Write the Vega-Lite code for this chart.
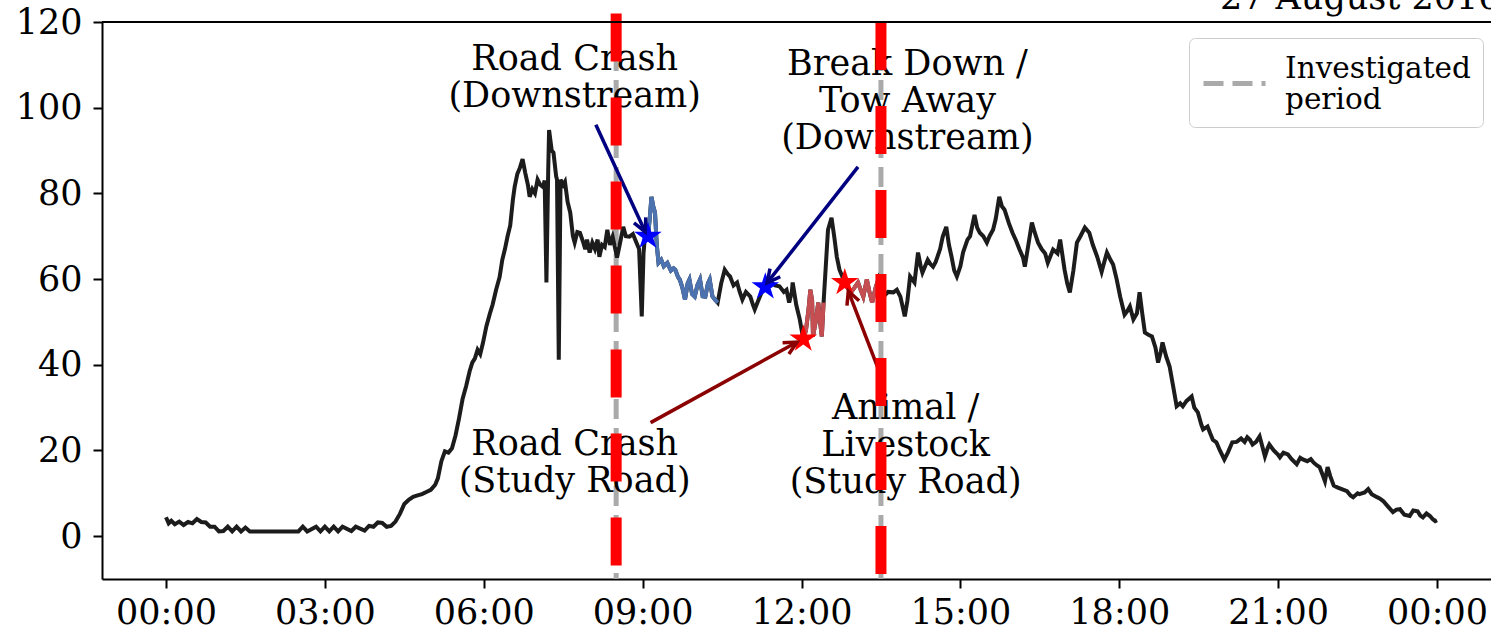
{
  "$schema": "https://vega.github.io/schema/vega-lite/v6.json",
  "width": 1389,
  "height": 557,
  "autosize": {"type": "none"},
  "padding": {"left": 102, "top": 22, "right": 0, "bottom": 49},
  "background": "white",
  "config": {
    "font": "DejaVu Serif",
    "view": {"stroke": null},
    "axis": {
      "grid": false,
      "domainColor": "black",
      "domainWidth": 2,
      "tickColor": "black",
      "tickWidth": 2,
      "tickSize": 9,
      "labelColor": "black",
      "labelFont": "DejaVu Serif",
      "labelFontSize": 35,
      "title": null
    }
  },
  "datasets": {
    "speed": [
      {"time": "2016-08-27T00:00:00Z", "speed": 4.4},
      {"time": "2016-08-27T00:03:00Z", "speed": 3.0},
      {"time": "2016-08-27T00:06:00Z", "speed": 3.6},
      {"time": "2016-08-27T00:10:00Z", "speed": 2.8},
      {"time": "2016-08-27T00:15:00Z", "speed": 3.4},
      {"time": "2016-08-27T00:20:00Z", "speed": 2.6},
      {"time": "2016-08-27T00:25:00Z", "speed": 3.3},
      {"time": "2016-08-27T00:30:00Z", "speed": 3.0},
      {"time": "2016-08-27T00:35:00Z", "speed": 4.0},
      {"time": "2016-08-27T00:40:00Z", "speed": 3.3},
      {"time": "2016-08-27T00:45:00Z", "speed": 3.2},
      {"time": "2016-08-27T00:50:00Z", "speed": 2.2},
      {"time": "2016-08-27T00:55:00Z", "speed": 2.2},
      {"time": "2016-08-27T01:00:00Z", "speed": 1.1},
      {"time": "2016-08-27T01:05:00Z", "speed": 1.2},
      {"time": "2016-08-27T01:10:00Z", "speed": 2.2},
      {"time": "2016-08-27T01:15:00Z", "speed": 1.1},
      {"time": "2016-08-27T01:20:00Z", "speed": 2.2},
      {"time": "2016-08-27T01:25:00Z", "speed": 1.1},
      {"time": "2016-08-27T01:30:00Z", "speed": 2.0},
      {"time": "2016-08-27T01:35:00Z", "speed": 1.1},
      {"time": "2016-08-27T01:45:00Z", "speed": 1.1},
      {"time": "2016-08-27T02:00:00Z", "speed": 1.1},
      {"time": "2016-08-27T02:15:00Z", "speed": 1.1},
      {"time": "2016-08-27T02:30:00Z", "speed": 1.1},
      {"time": "2016-08-27T02:35:00Z", "speed": 2.2},
      {"time": "2016-08-27T02:40:00Z", "speed": 1.1},
      {"time": "2016-08-27T02:50:00Z", "speed": 2.2},
      {"time": "2016-08-27T02:55:00Z", "speed": 1.1},
      {"time": "2016-08-27T03:00:00Z", "speed": 2.2},
      {"time": "2016-08-27T03:05:00Z", "speed": 1.1},
      {"time": "2016-08-27T03:10:00Z", "speed": 2.2},
      {"time": "2016-08-27T03:15:00Z", "speed": 1.1},
      {"time": "2016-08-27T03:20:00Z", "speed": 2.2},
      {"time": "2016-08-27T03:30:00Z", "speed": 1.2},
      {"time": "2016-08-27T03:35:00Z", "speed": 2.2},
      {"time": "2016-08-27T03:45:00Z", "speed": 1.3},
      {"time": "2016-08-27T03:50:00Z", "speed": 2.4},
      {"time": "2016-08-27T03:55:00Z", "speed": 2.2},
      {"time": "2016-08-27T04:00:00Z", "speed": 3.2},
      {"time": "2016-08-27T04:05:00Z", "speed": 3.1},
      {"time": "2016-08-27T04:10:00Z", "speed": 2.2},
      {"time": "2016-08-27T04:15:00Z", "speed": 2.4},
      {"time": "2016-08-27T04:20:00Z", "speed": 3.4},
      {"time": "2016-08-27T04:25:00Z", "speed": 5.2},
      {"time": "2016-08-27T04:30:00Z", "speed": 7.5},
      {"time": "2016-08-27T04:35:00Z", "speed": 8.5},
      {"time": "2016-08-27T04:40:00Z", "speed": 9.2},
      {"time": "2016-08-27T04:45:00Z", "speed": 9.5},
      {"time": "2016-08-27T04:50:00Z", "speed": 9.8},
      {"time": "2016-08-27T04:55:00Z", "speed": 10.3},
      {"time": "2016-08-27T05:00:00Z", "speed": 10.8},
      {"time": "2016-08-27T05:05:00Z", "speed": 12.0},
      {"time": "2016-08-27T05:08:00Z", "speed": 13.5},
      {"time": "2016-08-27T05:12:00Z", "speed": 17.5},
      {"time": "2016-08-27T05:16:00Z", "speed": 19.8},
      {"time": "2016-08-27T05:20:00Z", "speed": 19.5},
      {"time": "2016-08-27T05:24:00Z", "speed": 20.5},
      {"time": "2016-08-27T05:28:00Z", "speed": 23.5},
      {"time": "2016-08-27T05:32:00Z", "speed": 27.5},
      {"time": "2016-08-27T05:36:00Z", "speed": 32.0},
      {"time": "2016-08-27T05:40:00Z", "speed": 35.0},
      {"time": "2016-08-27T05:44:00Z", "speed": 38.5},
      {"time": "2016-08-27T05:47:00Z", "speed": 40.5},
      {"time": "2016-08-27T05:50:00Z", "speed": 41.5},
      {"time": "2016-08-27T05:53:00Z", "speed": 43.5},
      {"time": "2016-08-27T05:56:00Z", "speed": 42.5},
      {"time": "2016-08-27T05:59:00Z", "speed": 45.0},
      {"time": "2016-08-27T06:03:00Z", "speed": 49.0},
      {"time": "2016-08-27T06:07:00Z", "speed": 52.0},
      {"time": "2016-08-27T06:10:00Z", "speed": 54.0},
      {"time": "2016-08-27T06:14:00Z", "speed": 57.5},
      {"time": "2016-08-27T06:18:00Z", "speed": 60.5},
      {"time": "2016-08-27T06:21:00Z", "speed": 64.5},
      {"time": "2016-08-27T06:24:00Z", "speed": 67.0},
      {"time": "2016-08-27T06:27:00Z", "speed": 70.0},
      {"time": "2016-08-27T06:30:00Z", "speed": 72.5},
      {"time": "2016-08-27T06:33:00Z", "speed": 78.5},
      {"time": "2016-08-27T06:35:00Z", "speed": 81.5},
      {"time": "2016-08-27T06:38:00Z", "speed": 84.5},
      {"time": "2016-08-27T06:41:00Z", "speed": 86.0},
      {"time": "2016-08-27T06:44:00Z", "speed": 88.0},
      {"time": "2016-08-27T06:47:00Z", "speed": 84.8},
      {"time": "2016-08-27T06:50:00Z", "speed": 82.0},
      {"time": "2016-08-27T06:52:00Z", "speed": 79.2},
      {"time": "2016-08-27T06:55:00Z", "speed": 81.0},
      {"time": "2016-08-27T06:58:00Z", "speed": 80.0},
      {"time": "2016-08-27T07:01:00Z", "speed": 83.2},
      {"time": "2016-08-27T07:04:00Z", "speed": 82.0},
      {"time": "2016-08-27T07:07:00Z", "speed": 81.5},
      {"time": "2016-08-27T07:09:00Z", "speed": 83.0},
      {"time": "2016-08-27T07:11:00Z", "speed": 59.2},
      {"time": "2016-08-27T07:13:00Z", "speed": 85.0},
      {"time": "2016-08-27T07:14:00Z", "speed": 94.8},
      {"time": "2016-08-27T07:17:00Z", "speed": 90.0},
      {"time": "2016-08-27T07:19:00Z", "speed": 89.5},
      {"time": "2016-08-27T07:22:00Z", "speed": 84.0},
      {"time": "2016-08-27T07:23:00Z", "speed": 83.2},
      {"time": "2016-08-27T07:25:00Z", "speed": 41.2},
      {"time": "2016-08-27T07:27:00Z", "speed": 83.2},
      {"time": "2016-08-27T07:30:00Z", "speed": 82.0},
      {"time": "2016-08-27T07:32:00Z", "speed": 82.7},
      {"time": "2016-08-27T07:35:00Z", "speed": 78.0},
      {"time": "2016-08-27T07:38:00Z", "speed": 75.5},
      {"time": "2016-08-27T07:41:00Z", "speed": 70.0},
      {"time": "2016-08-27T07:43:00Z", "speed": 68.5},
      {"time": "2016-08-27T07:46:00Z", "speed": 71.0},
      {"time": "2016-08-27T07:49:00Z", "speed": 70.8},
      {"time": "2016-08-27T07:52:00Z", "speed": 69.0},
      {"time": "2016-08-27T07:55:00Z", "speed": 67.0},
      {"time": "2016-08-27T07:57:00Z", "speed": 69.2},
      {"time": "2016-08-27T08:00:00Z", "speed": 66.2},
      {"time": "2016-08-27T08:03:00Z", "speed": 68.5},
      {"time": "2016-08-27T08:06:00Z", "speed": 67.0},
      {"time": "2016-08-27T08:09:00Z", "speed": 69.2},
      {"time": "2016-08-27T08:11:00Z", "speed": 65.2},
      {"time": "2016-08-27T08:14:00Z", "speed": 68.0},
      {"time": "2016-08-27T08:17:00Z", "speed": 67.5},
      {"time": "2016-08-27T08:20:00Z", "speed": 71.5},
      {"time": "2016-08-27T08:23:00Z", "speed": 68.0},
      {"time": "2016-08-27T08:26:00Z", "speed": 69.9},
      {"time": "2016-08-27T08:29:00Z", "speed": 67.0},
      {"time": "2016-08-27T08:31:00Z", "speed": 65.0},
      {"time": "2016-08-27T08:34:00Z", "speed": 68.0},
      {"time": "2016-08-27T08:38:00Z", "speed": 72.2},
      {"time": "2016-08-27T08:41:00Z", "speed": 70.0},
      {"time": "2016-08-27T08:45:00Z", "speed": 69.9},
      {"time": "2016-08-27T08:49:00Z", "speed": 70.5},
      {"time": "2016-08-27T08:53:00Z", "speed": 68.5},
      {"time": "2016-08-27T08:56:00Z", "speed": 67.0},
      {"time": "2016-08-27T08:59:00Z", "speed": 51.3},
      {"time": "2016-08-27T09:01:00Z", "speed": 66.0},
      {"time": "2016-08-27T09:03:00Z", "speed": 70.8},
      {"time": "2016-08-27T09:06:00Z", "speed": 70.0},
      {"time": "2016-08-27T09:08:00Z", "speed": 74.0},
      {"time": "2016-08-27T09:10:00Z", "speed": 79.2},
      {"time": "2016-08-27T09:12:00Z", "speed": 77.0},
      {"time": "2016-08-27T09:14:00Z", "speed": 75.5},
      {"time": "2016-08-27T09:16:00Z", "speed": 68.0},
      {"time": "2016-08-27T09:18:00Z", "speed": 63.8},
      {"time": "2016-08-27T09:21:00Z", "speed": 64.5},
      {"time": "2016-08-27T09:24:00Z", "speed": 63.0},
      {"time": "2016-08-27T09:28:00Z", "speed": 63.8},
      {"time": "2016-08-27T09:32:00Z", "speed": 62.0},
      {"time": "2016-08-27T09:35:00Z", "speed": 62.5},
      {"time": "2016-08-27T09:37:00Z", "speed": 62.2},
      {"time": "2016-08-27T09:40:00Z", "speed": 60.5},
      {"time": "2016-08-27T09:42:00Z", "speed": 59.9},
      {"time": "2016-08-27T09:45:00Z", "speed": 58.0},
      {"time": "2016-08-27T09:48:00Z", "speed": 55.2},
      {"time": "2016-08-27T09:51:00Z", "speed": 59.0},
      {"time": "2016-08-27T09:53:00Z", "speed": 59.9},
      {"time": "2016-08-27T09:56:00Z", "speed": 56.5},
      {"time": "2016-08-27T09:59:00Z", "speed": 55.9},
      {"time": "2016-08-27T10:02:00Z", "speed": 58.5},
      {"time": "2016-08-27T10:05:00Z", "speed": 59.9},
      {"time": "2016-08-27T10:08:00Z", "speed": 56.0},
      {"time": "2016-08-27T10:11:00Z", "speed": 55.9},
      {"time": "2016-08-27T10:14:00Z", "speed": 59.0},
      {"time": "2016-08-27T10:16:00Z", "speed": 59.9},
      {"time": "2016-08-27T10:19:00Z", "speed": 56.0},
      {"time": "2016-08-27T10:22:00Z", "speed": 55.2},
      {"time": "2016-08-27T10:25:00Z", "speed": 54.5},
      {"time": "2016-08-27T10:29:00Z", "speed": 59.0},
      {"time": "2016-08-27T10:33:00Z", "speed": 62.2},
      {"time": "2016-08-27T10:37:00Z", "speed": 61.0},
      {"time": "2016-08-27T10:39:00Z", "speed": 60.6},
      {"time": "2016-08-27T10:43:00Z", "speed": 58.5},
      {"time": "2016-08-27T10:47:00Z", "speed": 59.2},
      {"time": "2016-08-27T10:50:00Z", "speed": 57.0},
      {"time": "2016-08-27T10:53:00Z", "speed": 55.2},
      {"time": "2016-08-27T10:57:00Z", "speed": 57.0},
      {"time": "2016-08-27T11:02:00Z", "speed": 55.9},
      {"time": "2016-08-27T11:05:00Z", "speed": 54.0},
      {"time": "2016-08-27T11:07:00Z", "speed": 52.9},
      {"time": "2016-08-27T11:11:00Z", "speed": 55.0},
      {"time": "2016-08-27T11:16:00Z", "speed": 57.5},
      {"time": "2016-08-27T11:19:00Z", "speed": 58.2},
      {"time": "2016-08-27T11:26:00Z", "speed": 59.2},
      {"time": "2016-08-27T11:30:00Z", "speed": 58.5},
      {"time": "2016-08-27T11:35:00Z", "speed": 58.3},
      {"time": "2016-08-27T11:40:00Z", "speed": 57.0},
      {"time": "2016-08-27T11:43:00Z", "speed": 57.5},
      {"time": "2016-08-27T11:46:00Z", "speed": 54.5},
      {"time": "2016-08-27T11:49:00Z", "speed": 57.0},
      {"time": "2016-08-27T11:50:00Z", "speed": 59.2},
      {"time": "2016-08-27T11:54:00Z", "speed": 54.0},
      {"time": "2016-08-27T11:58:00Z", "speed": 50.6},
      {"time": "2016-08-27T12:02:00Z", "speed": 46.0},
      {"time": "2016-08-27T12:05:00Z", "speed": 48.0},
      {"time": "2016-08-27T12:08:00Z", "speed": 53.0},
      {"time": "2016-08-27T12:10:00Z", "speed": 57.5},
      {"time": "2016-08-27T12:12:00Z", "speed": 55.0},
      {"time": "2016-08-27T12:13:00Z", "speed": 46.6},
      {"time": "2016-08-27T12:16:00Z", "speed": 50.0},
      {"time": "2016-08-27T12:19:00Z", "speed": 54.5},
      {"time": "2016-08-27T12:21:00Z", "speed": 50.0},
      {"time": "2016-08-27T12:23:00Z", "speed": 46.6},
      {"time": "2016-08-27T12:25:00Z", "speed": 54.5},
      {"time": "2016-08-27T12:30:00Z", "speed": 71.5},
      {"time": "2016-08-27T12:34:00Z", "speed": 74.3},
      {"time": "2016-08-27T12:37:00Z", "speed": 70.0},
      {"time": "2016-08-27T12:40:00Z", "speed": 65.2},
      {"time": "2016-08-27T12:43:00Z", "speed": 62.2},
      {"time": "2016-08-27T12:49:00Z", "speed": 59.2},
      {"time": "2016-08-27T12:52:00Z", "speed": 58.0},
      {"time": "2016-08-27T12:56:00Z", "speed": 56.9},
      {"time": "2016-08-27T13:00:00Z", "speed": 58.0},
      {"time": "2016-08-27T13:04:00Z", "speed": 59.2},
      {"time": "2016-08-27T13:07:00Z", "speed": 57.5},
      {"time": "2016-08-27T13:10:00Z", "speed": 55.9},
      {"time": "2016-08-27T13:14:00Z", "speed": 59.9},
      {"time": "2016-08-27T13:17:00Z", "speed": 57.0},
      {"time": "2016-08-27T13:20:00Z", "speed": 54.5},
      {"time": "2016-08-27T13:24:00Z", "speed": 58.0},
      {"time": "2016-08-27T13:27:00Z", "speed": 59.9},
      {"time": "2016-08-27T13:30:00Z", "speed": 57.5},
      {"time": "2016-08-27T13:33:00Z", "speed": 55.9},
      {"time": "2016-08-27T13:38:00Z", "speed": 57.0},
      {"time": "2016-08-27T13:44:00Z", "speed": 56.9},
      {"time": "2016-08-27T13:48:00Z", "speed": 57.5},
      {"time": "2016-08-27T13:52:00Z", "speed": 55.9},
      {"time": "2016-08-27T13:57:00Z", "speed": 51.3},
      {"time": "2016-08-27T14:00:00Z", "speed": 55.0},
      {"time": "2016-08-27T14:03:00Z", "speed": 60.6},
      {"time": "2016-08-27T14:08:00Z", "speed": 59.2},
      {"time": "2016-08-27T14:12:00Z", "speed": 66.2},
      {"time": "2016-08-27T14:15:00Z", "speed": 63.0},
      {"time": "2016-08-27T14:17:00Z", "speed": 61.5},
      {"time": "2016-08-27T14:20:00Z", "speed": 63.0},
      {"time": "2016-08-27T14:23:00Z", "speed": 64.5},
      {"time": "2016-08-27T14:26:00Z", "speed": 63.5},
      {"time": "2016-08-27T14:29:00Z", "speed": 62.9},
      {"time": "2016-08-27T14:32:00Z", "speed": 64.0},
      {"time": "2016-08-27T14:34:00Z", "speed": 65.2},
      {"time": "2016-08-27T14:37:00Z", "speed": 67.0},
      {"time": "2016-08-27T14:40:00Z", "speed": 69.9},
      {"time": "2016-08-27T14:44:00Z", "speed": 72.2},
      {"time": "2016-08-27T14:47:00Z", "speed": 68.0},
      {"time": "2016-08-27T14:50:00Z", "speed": 65.2},
      {"time": "2016-08-27T14:53:00Z", "speed": 62.0},
      {"time": "2016-08-27T14:56:00Z", "speed": 60.6},
      {"time": "2016-08-27T15:00:00Z", "speed": 63.0},
      {"time": "2016-08-27T15:03:00Z", "speed": 66.2},
      {"time": "2016-08-27T15:08:00Z", "speed": 69.2},
      {"time": "2016-08-27T15:11:00Z", "speed": 70.0},
      {"time": "2016-08-27T15:14:00Z", "speed": 73.0},
      {"time": "2016-08-27T15:16:00Z", "speed": 75.0},
      {"time": "2016-08-27T15:19:00Z", "speed": 72.0},
      {"time": "2016-08-27T15:22:00Z", "speed": 70.8},
      {"time": "2016-08-27T15:26:00Z", "speed": 70.0},
      {"time": "2016-08-27T15:30:00Z", "speed": 68.5},
      {"time": "2016-08-27T15:33:00Z", "speed": 70.0},
      {"time": "2016-08-27T15:37:00Z", "speed": 71.5},
      {"time": "2016-08-27T15:40:00Z", "speed": 74.0},
      {"time": "2016-08-27T15:44:00Z", "speed": 79.2},
      {"time": "2016-08-27T15:47:00Z", "speed": 77.0},
      {"time": "2016-08-27T15:50:00Z", "speed": 76.2},
      {"time": "2016-08-27T15:55:00Z", "speed": 73.0},
      {"time": "2016-08-27T15:59:00Z", "speed": 70.8},
      {"time": "2016-08-27T16:03:00Z", "speed": 69.0},
      {"time": "2016-08-27T16:07:00Z", "speed": 66.9},
      {"time": "2016-08-27T16:11:00Z", "speed": 65.0},
      {"time": "2016-08-27T16:13:00Z", "speed": 62.9},
      {"time": "2016-08-27T16:17:00Z", "speed": 68.0},
      {"time": "2016-08-27T16:21:00Z", "speed": 73.2},
      {"time": "2016-08-27T16:24:00Z", "speed": 71.0},
      {"time": "2016-08-27T16:28:00Z", "speed": 68.5},
      {"time": "2016-08-27T16:32:00Z", "speed": 67.0},
      {"time": "2016-08-27T16:36:00Z", "speed": 66.0},
      {"time": "2016-08-27T16:39:00Z", "speed": 63.8},
      {"time": "2016-08-27T16:45:00Z", "speed": 66.9},
      {"time": "2016-08-27T16:50:00Z", "speed": 66.0},
      {"time": "2016-08-27T16:53:00Z", "speed": 69.2},
      {"time": "2016-08-27T16:58:00Z", "speed": 62.2},
      {"time": "2016-08-27T17:01:00Z", "speed": 59.0},
      {"time": "2016-08-27T17:04:00Z", "speed": 56.9},
      {"time": "2016-08-27T17:08:00Z", "speed": 62.0},
      {"time": "2016-08-27T17:12:00Z", "speed": 68.5},
      {"time": "2016-08-27T17:16:00Z", "speed": 70.0},
      {"time": "2016-08-27T17:21:00Z", "speed": 72.0},
      {"time": "2016-08-27T17:26:00Z", "speed": 70.8},
      {"time": "2016-08-27T17:30:00Z", "speed": 68.0},
      {"time": "2016-08-27T17:35:00Z", "speed": 65.2},
      {"time": "2016-08-27T17:40:00Z", "speed": 61.7},
      {"time": "2016-08-27T17:43:00Z", "speed": 64.0},
      {"time": "2016-08-27T17:46:00Z", "speed": 66.2},
      {"time": "2016-08-27T17:50:00Z", "speed": 64.5},
      {"time": "2016-08-27T17:53:00Z", "speed": 63.4},
      {"time": "2016-08-27T17:57:00Z", "speed": 60.0},
      {"time": "2016-08-27T18:01:00Z", "speed": 55.9},
      {"time": "2016-08-27T18:06:00Z", "speed": 51.7},
      {"time": "2016-08-27T18:09:00Z", "speed": 52.5},
      {"time": "2016-08-27T18:12:00Z", "speed": 53.6},
      {"time": "2016-08-27T18:16:00Z", "speed": 50.6},
      {"time": "2016-08-27T18:20:00Z", "speed": 52.0},
      {"time": "2016-08-27T18:23:00Z", "speed": 56.9},
      {"time": "2016-08-27T18:26:00Z", "speed": 52.0},
      {"time": "2016-08-27T18:29:00Z", "speed": 47.5},
      {"time": "2016-08-27T18:33:00Z", "speed": 47.0},
      {"time": "2016-08-27T18:37:00Z", "speed": 46.6},
      {"time": "2016-08-27T18:41:00Z", "speed": 44.0},
      {"time": "2016-08-27T18:44:00Z", "speed": 40.5},
      {"time": "2016-08-27T18:47:00Z", "speed": 43.0},
      {"time": "2016-08-27T18:49:00Z", "speed": 45.2},
      {"time": "2016-08-27T18:53:00Z", "speed": 42.0},
      {"time": "2016-08-27T18:57:00Z", "speed": 39.6},
      {"time": "2016-08-27T19:01:00Z", "speed": 35.0},
      {"time": "2016-08-27T19:05:00Z", "speed": 30.3},
      {"time": "2016-08-27T19:09:00Z", "speed": 31.0},
      {"time": "2016-08-27T19:12:00Z", "speed": 30.3},
      {"time": "2016-08-27T19:16:00Z", "speed": 31.5},
      {"time": "2016-08-27T19:22:00Z", "speed": 32.6},
      {"time": "2016-08-27T19:25:00Z", "speed": 30.0},
      {"time": "2016-08-27T19:29:00Z", "speed": 28.9},
      {"time": "2016-08-27T19:33:00Z", "speed": 26.0},
      {"time": "2016-08-27T19:35:00Z", "speed": 24.9},
      {"time": "2016-08-27T19:40:00Z", "speed": 25.6},
      {"time": "2016-08-27T19:43:00Z", "speed": 24.0},
      {"time": "2016-08-27T19:46:00Z", "speed": 22.5},
      {"time": "2016-08-27T19:50:00Z", "speed": 21.9},
      {"time": "2016-08-27T19:54:00Z", "speed": 20.0},
      {"time": "2016-08-27T19:59:00Z", "speed": 17.9},
      {"time": "2016-08-27T20:03:00Z", "speed": 19.5},
      {"time": "2016-08-27T20:08:00Z", "speed": 21.9},
      {"time": "2016-08-27T20:13:00Z", "speed": 22.0},
      {"time": "2016-08-27T20:18:00Z", "speed": 22.8},
      {"time": "2016-08-27T20:22:00Z", "speed": 22.0},
      {"time": "2016-08-27T20:25:00Z", "speed": 23.1},
      {"time": "2016-08-27T20:28:00Z", "speed": 22.5},
      {"time": "2016-08-27T20:31:00Z", "speed": 21.4},
      {"time": "2016-08-27T20:35:00Z", "speed": 22.0},
      {"time": "2016-08-27T20:39:00Z", "speed": 23.3},
      {"time": "2016-08-27T20:42:00Z", "speed": 21.0},
      {"time": "2016-08-27T20:45:00Z", "speed": 18.6},
      {"time": "2016-08-27T20:48:00Z", "speed": 20.5},
      {"time": "2016-08-27T20:50:00Z", "speed": 21.4},
      {"time": "2016-08-27T20:55:00Z", "speed": 20.0},
      {"time": "2016-08-27T21:00:00Z", "speed": 19.0},
      {"time": "2016-08-27T21:02:00Z", "speed": 18.4},
      {"time": "2016-08-27T21:06:00Z", "speed": 19.5},
      {"time": "2016-08-27T21:11:00Z", "speed": 19.1},
      {"time": "2016-08-27T21:15:00Z", "speed": 18.0},
      {"time": "2016-08-27T21:21:00Z", "speed": 16.8},
      {"time": "2016-08-27T21:25:00Z", "speed": 18.3},
      {"time": "2016-08-27T21:28:00Z", "speed": 17.9},
      {"time": "2016-08-27T21:33:00Z", "speed": 17.5},
      {"time": "2016-08-27T21:37:00Z", "speed": 18.0},
      {"time": "2016-08-27T21:40:00Z", "speed": 17.2},
      {"time": "2016-08-27T21:44:00Z", "speed": 16.5},
      {"time": "2016-08-27T21:47:00Z", "speed": 16.1},
      {"time": "2016-08-27T21:50:00Z", "speed": 14.5},
      {"time": "2016-08-27T21:53:00Z", "speed": 12.8},
      {"time": "2016-08-27T21:56:00Z", "speed": 16.1},
      {"time": "2016-08-27T21:59:00Z", "speed": 14.0},
      {"time": "2016-08-27T22:03:00Z", "speed": 11.8},
      {"time": "2016-08-27T22:07:00Z", "speed": 11.4},
      {"time": "2016-08-27T22:12:00Z", "speed": 11.0},
      {"time": "2016-08-27T22:18:00Z", "speed": 10.5},
      {"time": "2016-08-27T22:22:00Z", "speed": 9.5},
      {"time": "2016-08-27T22:25:00Z", "speed": 9.1},
      {"time": "2016-08-27T22:30:00Z", "speed": 10.0},
      {"time": "2016-08-27T22:32:00Z", "speed": 9.8},
      {"time": "2016-08-27T22:38:00Z", "speed": 10.2},
      {"time": "2016-08-27T22:42:00Z", "speed": 11.0},
      {"time": "2016-08-27T22:46:00Z", "speed": 9.8},
      {"time": "2016-08-27T22:52:00Z", "speed": 9.1},
      {"time": "2016-08-27T22:55:00Z", "speed": 8.8},
      {"time": "2016-08-27T22:59:00Z", "speed": 8.2},
      {"time": "2016-08-27T23:04:00Z", "speed": 7.0},
      {"time": "2016-08-27T23:10:00Z", "speed": 5.6},
      {"time": "2016-08-27T23:14:00Z", "speed": 6.2},
      {"time": "2016-08-27T23:18:00Z", "speed": 6.3},
      {"time": "2016-08-27T23:23:00Z", "speed": 5.0},
      {"time": "2016-08-27T23:29:00Z", "speed": 4.7},
      {"time": "2016-08-27T23:33:00Z", "speed": 6.0},
      {"time": "2016-08-27T23:38:00Z", "speed": 5.8},
      {"time": "2016-08-27T23:41:00Z", "speed": 4.8},
      {"time": "2016-08-27T23:44:00Z", "speed": 4.4},
      {"time": "2016-08-27T23:48:00Z", "speed": 5.3},
      {"time": "2016-08-27T23:52:00Z", "speed": 4.7},
      {"time": "2016-08-27T23:55:00Z", "speed": 4.0},
      {"time": "2016-08-27T23:58:00Z", "speed": 3.5},
      {"time": "2016-08-28T00:00:00Z", "speed": 3.7}
    ],
    "period": [
      {"edge": "start", "time": "2016-08-27T08:30:00Z"},
      {"edge": "end", "time": "2016-08-27T13:30:00Z"}
    ],
    "events": [
      {"event": "Road Crash\n(Downstream)", "road": "Downstream", "time": "2016-08-27T09:06:00Z", "speed": 70.0, "tail_time": "2016-08-27T08:07:00Z", "tail_speed": 96.0, "tip_time": "2016-08-27T09:03:00Z", "tip_speed": 71.0, "label_time": "2016-08-27T07:43:00Z", "label_speed": 108.8},
      {"event": "Break Down /\nTow Away\n(Downstream)", "road": "Downstream", "time": "2016-08-27T11:19:00Z", "speed": 58.2, "tail_time": "2016-08-27T13:04:00Z", "tail_speed": 86.2, "tip_time": "2016-08-27T11:21:00Z", "tip_speed": 59.1, "label_time": "2016-08-27T14:00:00Z", "label_speed": 107.6},
      {"event": "Road Crash\n(Study Road)", "road": "Study Road", "time": "2016-08-27T12:02:00Z", "speed": 46.0, "tail_time": "2016-08-27T09:09:00Z", "tail_speed": 26.5, "tip_time": "2016-08-27T11:55:00Z", "tip_speed": 45.3, "label_time": "2016-08-27T07:43:00Z", "label_speed": 19.0},
      {"event": "Animal /\nLivestock\n(Study Road)", "road": "Study Road", "time": "2016-08-27T12:49:00Z", "speed": 59.2, "tail_time": "2016-08-27T13:31:00Z", "tail_speed": 36.9, "tip_time": "2016-08-27T12:53:00Z", "tip_speed": 57.2, "label_time": "2016-08-27T13:58:00Z", "label_speed": 27.4}
    ]
  },
  "resolve": {"scale": {"color": "independent"}},
  "layer": [
    {
      "data": {"name": "period"},
      "mark": {"type": "rule", "strokeWidth": 5, "strokeDash": [20, 9]},
      "encoding": {
        "x": {"field": "time", "type": "temporal",
              "scale": {"type": "utc", "domain": [{"year": 2016, "month": 8, "date": 26, "hours": 22, "minutes": 47, "seconds": 30, "utc": true}, {"year": 2016, "month": 8, "date": 28, "hours": 1, "minutes": 1, "seconds": 8, "utc": true}]},
              "axis": {"orient": "bottom", "format": "%H:%M", "labelPadding": 7,
                       "values": [
                         {"year": 2016, "month": 8, "date": 27, "hours": 0, "utc": true},
                         {"year": 2016, "month": 8, "date": 27, "hours": 3, "utc": true},
                         {"year": 2016, "month": 8, "date": 27, "hours": 6, "utc": true},
                         {"year": 2016, "month": 8, "date": 27, "hours": 9, "utc": true},
                         {"year": 2016, "month": 8, "date": 27, "hours": 12, "utc": true},
                         {"year": 2016, "month": 8, "date": 27, "hours": 15, "utc": true},
                         {"year": 2016, "month": 8, "date": 27, "hours": 18, "utc": true},
                         {"year": 2016, "month": 8, "date": 27, "hours": 21, "utc": true},
                         {"year": 2016, "month": 8, "date": 28, "hours": 0, "utc": true}
                       ]}},
        "color": {"datum": "Investigated period", "type": "nominal",
                  "scale": {"range": ["#aaaaaa"]},
                  "legend": {"orient": "none", "legendX": 1087, "legendY": 16, "title": null,
                             "symbolType": "stroke", "symbolSize": 3844, "symbolStrokeWidth": 5, "symbolDash": [20, 9],
                             "labelExpr": "['Investigated', '\u2004period']",
                             "labelBaseline": "bottom",
                             "labelFont": "DejaVu Serif", "labelFontSize": 29.5, "labelColor": "black", "labelOffset": 17,
                             "labelLimit": 400,
                             "padding": 12, "strokeColor": "#cccccc", "cornerRadius": 6, "fillColor": "#ffffff"}}
      }
    },
    {
      "data": {"name": "speed"},
      "mark": {"type": "line", "color": "#1c1c1c", "strokeWidth": 4},
      "encoding": {
        "x": {"field": "time", "type": "temporal",
              "scale": {"type": "utc", "domain": [{"year": 2016, "month": 8, "date": 26, "hours": 22, "minutes": 47, "seconds": 30, "utc": true}, {"year": 2016, "month": 8, "date": 28, "hours": 1, "minutes": 1, "seconds": 8, "utc": true}]}},
        "y": {"field": "speed", "type": "quantitative",
              "scale": {"domain": [-10, 120], "nice": false, "zero": false},
              "axis": {"values": [0, 20, 40, 60, 80, 100, 120], "labelPadding": 11}}
      }
    },
    {
      "data": {"name": "speed"},
      "transform": [{"filter": "time(datum.time) >= utc(2016, 7, 27, 9, 3) && time(datum.time) <= utc(2016, 7, 27, 10, 25)"}],
      "mark": {"type": "line", "color": "#4c72b0", "strokeWidth": 4},
      "encoding": {
        "x": {"field": "time", "type": "temporal", "scale": {"type": "utc", "domain": [{"year": 2016, "month": 8, "date": 26, "hours": 22, "minutes": 47, "seconds": 30, "utc": true}, {"year": 2016, "month": 8, "date": 28, "hours": 1, "minutes": 1, "seconds": 8, "utc": true}]}},
        "y": {"field": "speed", "type": "quantitative", "scale": {"domain": [-10, 120], "nice": false, "zero": false}}
      }
    },
    {
      "data": {"name": "speed"},
      "transform": [{"filter": "time(datum.time) >= utc(2016, 7, 27, 12, 2) && time(datum.time) <= utc(2016, 7, 27, 12, 25)"}],
      "mark": {"type": "line", "color": "#c44e52", "strokeWidth": 4},
      "encoding": {
        "x": {"field": "time", "type": "temporal", "scale": {"type": "utc", "domain": [{"year": 2016, "month": 8, "date": 26, "hours": 22, "minutes": 47, "seconds": 30, "utc": true}, {"year": 2016, "month": 8, "date": 28, "hours": 1, "minutes": 1, "seconds": 8, "utc": true}]}},
        "y": {"field": "speed", "type": "quantitative", "scale": {"domain": [-10, 120], "nice": false, "zero": false}}
      }
    },
    {
      "data": {"name": "speed"},
      "transform": [{"filter": "time(datum.time) >= utc(2016, 7, 27, 12, 49) && time(datum.time) <= utc(2016, 7, 27, 13, 27)"}],
      "mark": {"type": "line", "color": "#c44e52", "strokeWidth": 4},
      "encoding": {
        "x": {"field": "time", "type": "temporal", "scale": {"type": "utc", "domain": [{"year": 2016, "month": 8, "date": 26, "hours": 22, "minutes": 47, "seconds": 30, "utc": true}, {"year": 2016, "month": 8, "date": 28, "hours": 1, "minutes": 1, "seconds": 8, "utc": true}]}},
        "y": {"field": "speed", "type": "quantitative", "scale": {"domain": [-10, 120], "nice": false, "zero": false}}
      }
    },
    {
      "data": {"name": "events"},
      "mark": {"type": "point", "filled": true, "opacity": 1, "size": 841, "strokeWidth": 1,
               "shape": "M0,-1L0.2245,-0.309L0.951,-0.309L0.363,0.118L0.588,0.809L0,0.382L-0.588,0.809L-0.363,0.118L-0.951,-0.309L-0.2245,-0.309Z"},
      "encoding": {
        "x": {"field": "time", "type": "temporal", "scale": {"type": "utc", "domain": [{"year": 2016, "month": 8, "date": 26, "hours": 22, "minutes": 47, "seconds": 30, "utc": true}, {"year": 2016, "month": 8, "date": 28, "hours": 1, "minutes": 1, "seconds": 8, "utc": true}]}},
        "y": {"field": "speed", "type": "quantitative", "scale": {"domain": [-10, 120], "nice": false, "zero": false}},
        "color": {"field": "road", "type": "nominal", "scale": {"domain": ["Downstream", "Study Road"], "range": ["#0000ff", "#ff0000"]}, "legend": null}
      }
    },
    {
      "data": {"name": "events"},
      "mark": {"type": "rule", "strokeWidth": 3.5},
      "encoding": {
        "x": {"field": "tail_time", "type": "temporal", "scale": {"type": "utc", "domain": [{"year": 2016, "month": 8, "date": 26, "hours": 22, "minutes": 47, "seconds": 30, "utc": true}, {"year": 2016, "month": 8, "date": 28, "hours": 1, "minutes": 1, "seconds": 8, "utc": true}]}},
        "y": {"field": "tail_speed", "type": "quantitative", "scale": {"domain": [-10, 120], "nice": false, "zero": false}},
        "x2": {"field": "tip_time"},
        "y2": {"field": "tip_speed"},
        "color": {"field": "road", "type": "nominal", "scale": {"domain": ["Downstream", "Study Road"], "range": ["#000080", "#8b0000"]}, "legend": null}
      }
    },
    {
      "data": {"name": "events"},
      "transform": [{"filter": "indexof(datum.event, '(Downstream)') > 0 && indexof(datum.event, 'Road Crash') === 0"}],
      "mark": {"type": "point", "filled": false, "opacity": 1, "size": 676, "strokeWidth": 3.5, "color": "#000080", "angle": 65.4,
               "shape": "M-1,-0.5L0,0L-1,0.5"},
      "encoding": {
        "x": {"field": "tip_time", "type": "temporal", "scale": {"type": "utc", "domain": [{"year": 2016, "month": 8, "date": 26, "hours": 22, "minutes": 47, "seconds": 30, "utc": true}, {"year": 2016, "month": 8, "date": 28, "hours": 1, "minutes": 1, "seconds": 8, "utc": true}]}},
        "y": {"field": "tip_speed", "type": "quantitative", "scale": {"domain": [-10, 120], "nice": false, "zero": false}}
      }
    },
    {
      "data": {"name": "events"},
      "transform": [{"filter": "indexof(datum.event, 'Break Down') === 0"}],
      "mark": {"type": "point", "filled": false, "opacity": 1, "size": 676, "strokeWidth": 3.5, "color": "#000080", "angle": 128.1,
               "shape": "M-1,-0.5L0,0L-1,0.5"},
      "encoding": {
        "x": {"field": "tip_time", "type": "temporal", "scale": {"type": "utc", "domain": [{"year": 2016, "month": 8, "date": 26, "hours": 22, "minutes": 47, "seconds": 30, "utc": true}, {"year": 2016, "month": 8, "date": 28, "hours": 1, "minutes": 1, "seconds": 8, "utc": true}]}},
        "y": {"field": "tip_speed", "type": "quantitative", "scale": {"domain": [-10, 120], "nice": false, "zero": false}}
      }
    },
    {
      "data": {"name": "events"},
      "transform": [{"filter": "indexof(datum.event, 'Road Crash') === 0 && datum.road === 'Study Road'"}],
      "mark": {"type": "point", "filled": false, "opacity": 1, "size": 676, "strokeWidth": 3.5, "color": "#8b0000", "angle": -29.0,
               "shape": "M-1,-0.5L0,0L-1,0.5"},
      "encoding": {
        "x": {"field": "tip_time", "type": "temporal", "scale": {"type": "utc", "domain": [{"year": 2016, "month": 8, "date": 26, "hours": 22, "minutes": 47, "seconds": 30, "utc": true}, {"year": 2016, "month": 8, "date": 28, "hours": 1, "minutes": 1, "seconds": 8, "utc": true}]}},
        "y": {"field": "tip_speed", "type": "quantitative", "scale": {"domain": [-10, 120], "nice": false, "zero": false}}
      }
    },
    {
      "data": {"name": "events"},
      "transform": [{"filter": "indexof(datum.event, 'Animal') === 0"}],
      "mark": {"type": "point", "filled": false, "opacity": 1, "size": 676, "strokeWidth": 3.5, "color": "#8b0000", "angle": -111.3,
               "shape": "M-1,-0.5L0,0L-1,0.5"},
      "encoding": {
        "x": {"field": "tip_time", "type": "temporal", "scale": {"type": "utc", "domain": [{"year": 2016, "month": 8, "date": 26, "hours": 22, "minutes": 47, "seconds": 30, "utc": true}, {"year": 2016, "month": 8, "date": 28, "hours": 1, "minutes": 1, "seconds": 8, "utc": true}]}},
        "y": {"field": "tip_speed", "type": "quantitative", "scale": {"domain": [-10, 120], "nice": false, "zero": false}}
      }
    },
    {
      "data": {"name": "events"},
      "mark": {"type": "text", "align": "center", "baseline": "alphabetic", "lineBreak": "\n",
               "font": "DejaVu Serif", "fontSize": 35, "lineHeight": 37, "color": "black"},
      "encoding": {
        "x": {"field": "label_time", "type": "temporal", "scale": {"type": "utc", "domain": [{"year": 2016, "month": 8, "date": 26, "hours": 22, "minutes": 47, "seconds": 30, "utc": true}, {"year": 2016, "month": 8, "date": 28, "hours": 1, "minutes": 1, "seconds": 8, "utc": true}]}},
        "y": {"field": "label_speed", "type": "quantitative", "scale": {"domain": [-10, 120], "nice": false, "zero": false}},
        "text": {"field": "event", "type": "nominal"}
      }
    },
    {
      "data": {"name": "period"},
      "transform": [{"filter": "datum.edge === 'start'"}],
      "mark": {"type": "rule", "color": "#ff0000", "strokeWidth": 11, "strokeDash": [48, 36]},
      "encoding": {
        "x": {"field": "time", "type": "temporal", "scale": {"type": "utc", "domain": [{"year": 2016, "month": 8, "date": 26, "hours": 22, "minutes": 47, "seconds": 30, "utc": true}, {"year": 2016, "month": 8, "date": 28, "hours": 1, "minutes": 1, "seconds": 8, "utc": true}]}},
        "y": {"datum": 122, "type": "quantitative", "scale": {"domain": [-10, 120], "nice": false, "zero": false}},
        "y2": {"datum": -10}
      }
    },
    {
      "data": {"name": "period"},
      "transform": [{"filter": "datum.edge === 'end'"}],
      "mark": {"type": "rule", "color": "#ff0000", "strokeWidth": 11, "strokeDash": [48, 36]},
      "encoding": {
        "x": {"field": "time", "type": "temporal", "scale": {"type": "utc", "domain": [{"year": 2016, "month": 8, "date": 26, "hours": 22, "minutes": 47, "seconds": 30, "utc": true}, {"year": 2016, "month": 8, "date": 28, "hours": 1, "minutes": 1, "seconds": 8, "utc": true}]}},
        "y": {"datum": 120, "type": "quantitative", "scale": {"domain": [-10, 120], "nice": false, "zero": false}},
        "y2": {"datum": -10}
      }
    },
    {
      "data": {"name": "period"},
      "mark": {"type": "rule", "color": "black", "strokeWidth": 2},
      "encoding": {
        "y": {"datum": 120, "type": "quantitative", "scale": {"domain": [-10, 120], "nice": false, "zero": false}}
      }
    },
    {
      "data": {"values": [{}]},
      "mark": {"type": "text", "align": "right", "baseline": "alphabetic", "font": "DejaVu Serif", "fontSize": 35, "color": "black"},
      "encoding": {
        "x": {"datum": {"year": 2016, "month": 8, "date": 28, "hours": 1, "minutes": 12, "utc": true}, "type": "temporal", "scale": {"type": "utc", "domain": [{"year": 2016, "month": 8, "date": 26, "hours": 22, "minutes": 47, "seconds": 30, "utc": true}, {"year": 2016, "month": 8, "date": 28, "hours": 1, "minutes": 1, "seconds": 8, "utc": true}]}},
        "y": {"datum": 123, "type": "quantitative", "scale": {"domain": [-10, 120], "nice": false, "zero": false}},
        "text": {"value": "27 August 2016"}
      }
    }
  ]
}
